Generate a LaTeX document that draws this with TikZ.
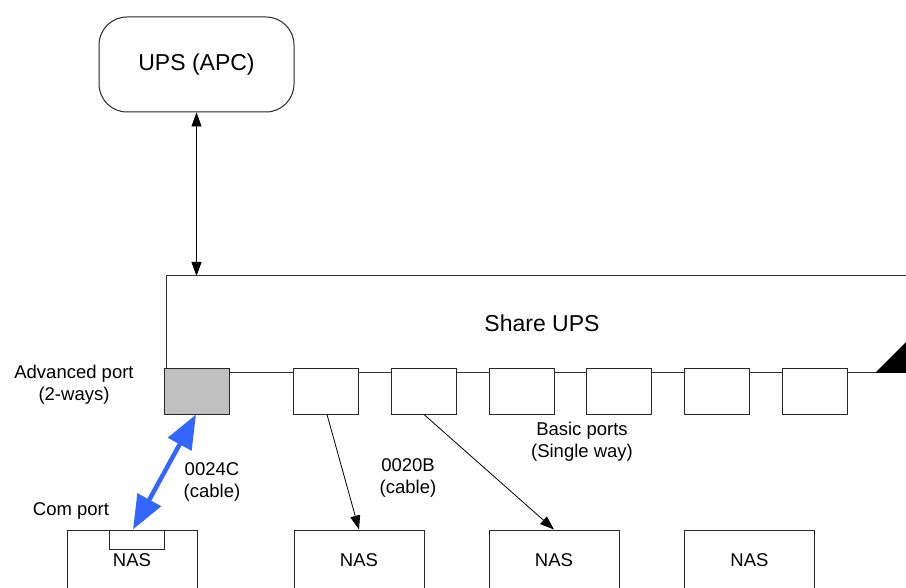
\documentclass[tikz,border=0pt]{standalone}
\usepackage{fontspec}
\setmainfont{Liberation Sans}
\usetikzlibrary{arrows.meta}
\definecolor{portgray}{RGB}{192,192,192}
\definecolor{cableblue}{RGB}{51,102,255}
\begin{document}
\begin{tikzpicture}[x=1pt,y=-1pt,
  box/.style={draw=black!85, line width=1pt, fill=white, inner sep=0pt},
  portbox/.style={box, minimum width=65pt, minimum height=45pt},
  nasbox/.style={box, minimum width=130pt, minimum height=60pt},
  lbl/.style={align=center, font=\fontsize{18.5}{22}\selectfont, inner sep=0pt},
  thinline/.style={draw=black!80, line width=1pt},
  arr/.style={line width=0.8pt, -{Triangle[length=14pt,width=10pt]}},
  dblarr/.style={line width=0.8pt, {Triangle[length=14pt,width=10pt]}-{Triangle[length=14pt,width=10pt]}},
  bluearr/.style={draw=cableblue, line width=4.5pt, {Triangle[length=34pt,width=26pt]}-{Triangle[length=34pt,width=26pt]}},
]
\clip (0,0) rectangle (906,588);
% UPS
\node[box, rounded corners=28pt, minimum width=195pt, minimum height=95pt, font=\fontsize{23}{26}\selectfont] (ups) at (196.5,64.5) {UPS (APC)};
% Share UPS frame
\coordinate (stl) at (166,276);
\coordinate (str) at (910,276);
\coordinate (sbl) at (166,373);
\coordinate (sbr) at (910,373);
\draw[thinline] (str) -- (stl) -- (sbl) -- (sbr);
\node[lbl, font=\fontsize{23}{26}\selectfont] (share) at (542,323) {Share UPS};
\fill (875,373) -- (950,373) -- (950,298) -- cycle;
% ports
\node[portbox, fill=portgray] (p1) at (196.5,391.5) {};
\node[portbox] (p2) at (326,391.5) {};
\node[portbox] (p3) at (423.5,391.5) {};
\node[portbox] (p4) at (521.5,391.5) {};
\node[portbox] (p5) at (619,391.5) {};
\node[portbox] (p6) at (716.5,391.5) {};
\node[portbox] (p7) at (814.5,391.5) {};
% NAS boxes
\node[nasbox] (nas1) at (132,560) {};
\node[nasbox] (nas2) at (359,560) {};
\node[nasbox] (nas3) at (554,560) {};
\node[nasbox] (nas4) at (749.5,560) {};
\node[box, minimum width=55pt, minimum height=19pt] (com) at (136.5,539.5) {};
\node[lbl] (nas1t) at (132,560) {NAS};
\node[lbl] (nas2t) at (359,560) {NAS};
\node[lbl] (nas3t) at (554,560) {NAS};
\node[lbl] (nas4t) at (749.5,560) {NAS};
% connectors
\draw[dblarr] (ups.south) -- (ups.south |- stl);
\draw[bluearr] ([xshift=-0.5pt]p1.south) -- ([xshift=-3.5pt]com.north);
\draw[arr] ([xshift=1pt]p2.south) -- (nas2.north);
\draw[arr] ([xshift=0.5pt]p3.south) -- (nas3.north);
% labels
\node[lbl] (advlbl) at (74,385) {Advanced port\\(2-ways)};
\node[lbl] (c24) at (212,482) {0024C\\(cable)};
\node[lbl] (c20) at (408,478) {0020B\\(cable)};
\node[lbl] (basic) at (582,442) {Basic ports\\(Single way)};
\node[lbl] (comlbl) at (71,511) {Com port};
\end{tikzpicture}
\end{document}
